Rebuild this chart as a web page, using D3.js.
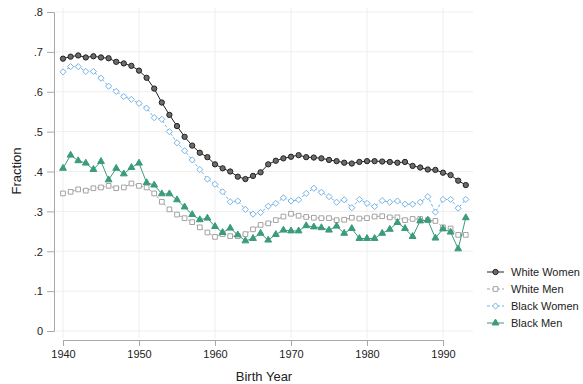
<!DOCTYPE html>
<html lang="en">
<head>
    <meta charset="UTF-8">
    <title>Fraction by Birth Year</title>
    <script src="https://d3js.org/d3.v7.min.js"></script>
    <style>
        body { margin: 0; background: #fff; }
        svg { font-family: "Liberation Sans", Arial, Helvetica, sans-serif; }
        .grid line { stroke: #eeeeee; stroke-width: 1; }
        .axis path, .axis line { stroke: #a8a8a8; }
        .axis text { fill: #222; font-size: 11px; }
    </style>
</head>
<body>
    <svg width="583" height="384"></svg>

    <script>
        // Data, one value per birth year 1940-1993
        const years = d3.range(1940, 1994);

        const whiteWomen = [0.683, 0.688, 0.691, 0.686, 0.689, 0.686, 0.684, 0.675, 0.671, 0.665,
            0.653, 0.635, 0.608, 0.573, 0.542, 0.514, 0.487, 0.465, 0.447, 0.436,
            0.418, 0.408, 0.400, 0.387, 0.381, 0.389, 0.398, 0.418, 0.427, 0.433,
            0.437, 0.441, 0.436, 0.435, 0.433, 0.429, 0.426, 0.422, 0.420, 0.424,
            0.426, 0.426, 0.425, 0.424, 0.422, 0.424, 0.414, 0.410, 0.405, 0.404,
            0.397, 0.391, 0.377, 0.366];

        const whiteMen = [0.345, 0.349, 0.355, 0.352, 0.358, 0.360, 0.364, 0.358, 0.360, 0.370,
            0.364, 0.360, 0.345, 0.324, 0.305, 0.292, 0.283, 0.273, 0.260, 0.247,
            0.236, 0.243, 0.238, 0.238, 0.243, 0.255, 0.266, 0.270, 0.278, 0.287,
            0.294, 0.289, 0.286, 0.284, 0.283, 0.283, 0.278, 0.279, 0.284, 0.282,
            0.283, 0.287, 0.288, 0.285, 0.285, 0.278, 0.281, 0.281, 0.278, 0.276,
            0.260, 0.257, 0.241, 0.241];

        const blackWomen = [0.650, 0.663, 0.663, 0.651, 0.651, 0.634, 0.614, 0.601, 0.588, 0.581,
            0.571, 0.559, 0.535, 0.531, 0.500, 0.472, 0.452, 0.429, 0.405, 0.381,
            0.368, 0.349, 0.324, 0.326, 0.305, 0.293, 0.297, 0.313, 0.320, 0.334,
            0.326, 0.329, 0.345, 0.358, 0.348, 0.337, 0.323, 0.329, 0.309, 0.330,
            0.320, 0.312, 0.327, 0.323, 0.326, 0.318, 0.318, 0.323, 0.337, 0.298,
            0.330, 0.330, 0.308, 0.330];

        const blackMen = [0.408, 0.441, 0.427, 0.421, 0.405, 0.425, 0.379, 0.408, 0.394, 0.410,
            0.421, 0.372, 0.366, 0.344, 0.344, 0.329, 0.311, 0.292, 0.279, 0.283,
            0.262, 0.247, 0.258, 0.241, 0.226, 0.232, 0.245, 0.228, 0.242, 0.253,
            0.251, 0.251, 0.264, 0.261, 0.259, 0.253, 0.263, 0.245, 0.257, 0.232,
            0.232, 0.232, 0.245, 0.255, 0.272, 0.257, 0.237, 0.276, 0.278, 0.233,
            0.256, 0.248, 0.206, 0.284];

        const yTicks = [0, 0.1, 0.2, 0.3, 0.4, 0.5, 0.6, 0.7, 0.8];
        const yTickLabels = ["0", ".1", ".2", ".3", ".4", ".5", ".6", ".7", ".8"];
        const xTicks = [1940, 1950, 1960, 1970, 1980, 1990];

        const series = [
            { name: "White Women", values: whiteWomen, color: "#222222", fill: "#6b6b6b", dash: null, shape: "circle" },
            { name: "White Men", values: whiteMen, color: "#a3a3a3", fill: "#ffffff", dash: "3,2", shape: "square" },
            { name: "Black Women", values: blackWomen, color: "#74b3e6", fill: "#ffffff", dash: "3,2", shape: "diamond" },
            { name: "Black Men", values: blackMen, color: "#3a9c78", fill: "#3a9c78", dash: null, shape: "triangle" }
        ];

        const svg = d3.select("svg");

        // Scales (plot region in pixels)
        const x = d3.scaleLinear().domain([1940, 1990]).range([63, 443]);
        const y = d3.scaleLinear().domain([0, 0.8]).range([331, 12]);

        // Grid lines
        const grid = svg.append("g").attr("class", "grid");
        grid.selectAll(".h").data(yTicks).enter().append("line")
            .attr("x1", 56).attr("x2", 473)
            .attr("y1", d => y(d)).attr("y2", d => y(d));
        grid.selectAll(".v").data(xTicks).enter().append("line")
            .attr("x1", d => x(d)).attr("x2", d => x(d))
            .attr("y1", 8).attr("y2", 338);

        // Axes
        const yAxis = svg.append("g").attr("class", "axis")
            .attr("transform", "translate(54,0)")
            .call(d3.axisLeft(y).tickValues(yTicks).tickFormat((d, i) => yTickLabels[i]).tickSizeOuter(0).tickSize(7).tickPadding(4));
        yAxis.selectAll("text").attr("dy", "0.35em");

        svg.append("g").attr("class", "axis")
            .attr("transform", "translate(0,340)")
            .call(d3.axisBottom(x).tickValues(xTicks).tickFormat(d3.format("d")).tickSizeOuter(0).tickSize(6).tickPadding(4));

        // Axis titles
        svg.append("text")
            .attr("transform", "translate(21,171) rotate(-90)")
            .attr("text-anchor", "middle")
            .attr("font-size", 13)
            .attr("fill", "#222")
            .text("Fraction");

        svg.append("text")
            .attr("x", 264).attr("y", 381)
            .attr("text-anchor", "middle")
            .attr("font-size", 13)
            .attr("fill", "#222")
            .text("Birth Year");

        // Marker shapes
        const symbols = {
            circle: d3.symbol().type(d3.symbolCircle).size(22),
            square: d3.symbol().type(d3.symbolSquare).size(22),
            diamond: d3.symbol().type(d3.symbolDiamond2).size(24),
            triangle: d3.symbol().type(d3.symbolTriangle).size(20)
        };

        const line = d3.line()
            .x(d => x(d.year))
            .y(d => y(d.value));

        series.forEach(s => {
            const pts = years.map((yr, i) => ({ year: yr, value: s.values[i] }));
            const g = svg.append("g");
            g.append("path")
                .datum(pts)
                .attr("fill", "none")
                .attr("stroke", s.color)
                .attr("stroke-width", 1)
                .attr("stroke-dasharray", s.dash)
                .attr("d", line);
            g.selectAll("path.mk").data(pts).enter().append("path")
                .attr("class", "mk")
                .attr("transform", d => `translate(${x(d.year)},${y(d.value)})`)
                .attr("d", symbols[s.shape])
                .attr("fill", s.fill)
                .attr("stroke", s.color)
                .attr("stroke-width", 1);
        });

        // Legend
        const legend = svg.append("g");
        series.forEach((s, i) => {
            const ly = 272 + i * 17;
            legend.append("line")
                .attr("x1", 487).attr("x2", 504)
                .attr("y1", ly).attr("y2", ly)
                .attr("stroke", s.color)
                .attr("stroke-width", 1)
                .attr("stroke-dasharray", s.dash);
            legend.append("path")
                .attr("transform", `translate(495.5,${ly})`)
                .attr("d", symbols[s.shape])
                .attr("fill", s.fill)
                .attr("stroke", s.color)
                .attr("stroke-width", 1);
            legend.append("text")
                .attr("x", 511).attr("y", ly)
                .attr("dy", "0.35em")
                .attr("font-size", 11)
                .attr("fill", "#222")
                .text(s.name);
        });
    </script>
</body>
</html>
